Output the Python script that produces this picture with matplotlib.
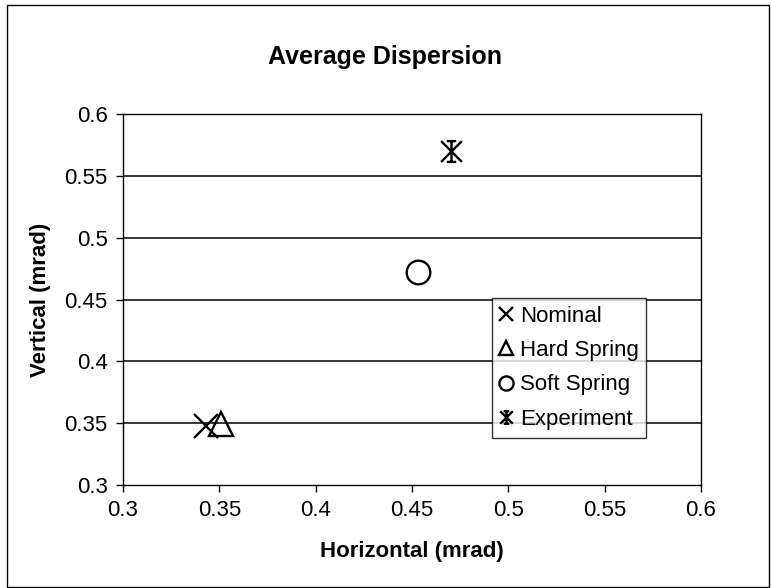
import numpy as np
import matplotlib
matplotlib.use('Agg')
import matplotlib.pyplot as plt
from matplotlib.path import Path
from matplotlib.patches import Rectangle

# values
series = ['Nominal', 'Hard Spring', 'Soft Spring', 'Experiment']
horizontal = [0.343, 0.351, 0.453, 0.470]
vertical = [0.348, 0.349, 0.472, 0.570]
ticks = [0.3, 0.35, 0.4, 0.45, 0.5, 0.55, 0.6]
tick_labels = ['0.3', '0.35', '0.4', '0.45', '0.5', '0.55', '0.6']

# asterisk marker with caps, like the spreadsheet "star"
star = Path(
    [(-1, -1), (1, 1), (-1, 1), (1, -1), (0, -1), (0, 1),
     (-0.45, 1), (0.45, 1), (-0.45, -1), (0.45, -1)],
    [Path.MOVETO, Path.LINETO, Path.MOVETO, Path.LINETO, Path.MOVETO, Path.LINETO,
     Path.MOVETO, Path.LINETO, Path.MOVETO, Path.LINETO])
markers = ['x', '^', 'o', star]
sizes = [17, 17, 17, 15]

matplotlib.rcParams['font.family'] = ['Liberation Sans', 'DejaVu Sans']

fig = plt.figure(figsize=(7.71, 5.88), dpi=100)
ax = fig.add_axes([123 / 771, 1 - 485 / 588, (701 - 123) / 771, (485 - 114) / 588])

for name, hx, vy, m, s in zip(series, horizontal, vertical, markers, sizes):
    ax.plot(hx, vy, linestyle='none', marker=m, markersize=s,
            markerfacecolor='none', markeredgecolor='black', markeredgewidth=1.7,
            label=name)

ax.set_xlim(0.3, 0.6)
ax.set_ylim(0.3, 0.6)
ax.set_xticks(ticks, tick_labels)
ax.set_yticks(ticks, tick_labels)
ax.tick_params(direction='out', length=5, width=1, labelsize=16, pad=6, colors='black')
for y in ticks[1:]:
    ax.axhline(y, color='black', linewidth=1.1, zorder=0)
for sp in ax.spines.values():
    sp.set_color('black')
    sp.set_linewidth(1)

ax.set_xlabel('Horizontal (mrad)', fontsize=16, fontweight='bold', labelpad=14)
ax.set_ylabel('Vertical (mrad)', fontsize=16, fontweight='bold', labelpad=10)
fig.text(0.5, 1 - 57 / 588, 'Average Dispersion', ha='center', va='center',
         fontsize=18, fontweight='bold')

leg = ax.legend(loc='upper left', bbox_to_anchor=(492 / 771, 1 - 298 / 588),
                bbox_transform=fig.transFigure, borderaxespad=0, fontsize=16,
                markerscale=0.6, handlelength=0.6, handletextpad=0.3,
                labelspacing=0.6, borderpad=0.35, frameon=True, fancybox=False)
leg.get_frame().set_edgecolor('black')
leg.get_frame().set_linewidth(1)

# chart area border
fig.patches.append(Rectangle((7 / 771, 1 / 588), (769 - 7) / 771, (583 - 1) / 588,
                             transform=fig.transFigure, fill=False,
                             edgecolor='black', linewidth=1))

fig.savefig('out.png', dpi=100)
